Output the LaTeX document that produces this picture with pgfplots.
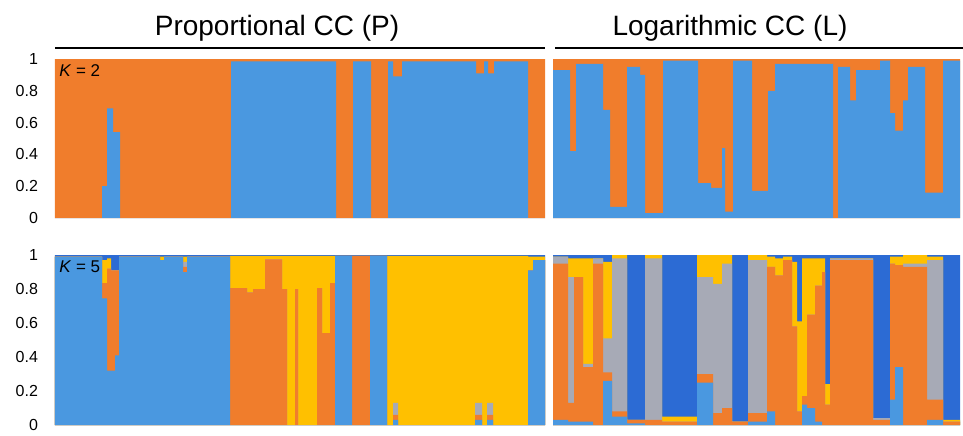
\documentclass[border=0pt]{standalone}
\usepackage{pgfplots}
\pgfplotsset{compat=1.18}
\usepackage{pgfplotstable}
\usepackage{fontspec}
\setmainfont{Liberation Sans}
\definecolor{cLB}{HTML}{4A98E0}
\definecolor{cOR}{HTML}{F07D2C}
\definecolor{cGR}{HTML}{A7AAB6}
\definecolor{cYE}{HTML}{FFC000}
\definecolor{cDB}{HTML}{2C6BD4}

% K = 2, proportional CC: B = blue share, O = orange share
\pgfplotstableread{
x B O
0 0.0 1.0
47 0.20 0.80
52 0.69 0.31
58 0.54 0.46
65 0.0 1.0
176 0.985 0.015
281 0.0 1.0
298 0.985 0.015
316 0.0 1.0
333 0.985 0.015
338 0.89 0.11
347 0.985 0.015
421 0.91 0.09
429 0.985 0.015
433 0.91 0.09
439 0.985 0.015
473 0.0 1.0
490 0.0 1.0
}\topP

% K = 2, logarithmic CC
\pgfplotstableread{
x B O
0 0.93 0.07
17 0.42 0.58
23 0.97 0.03
50 0.68 0.32
57 0.07 0.93
74 0.95 0.05
87 0.90 0.10
92 0.03 0.97
110 0.99 0.01
145 0.22 0.78
158 0.19 0.81
169 0.44 0.56
172 0.04 0.96
180 0.99 0.01
199 0.17 0.83
215 0.80 0.20
222 0.97 0.03
280 0.0 1.0
285 0.95 0.05
297 0.74 0.26
303 0.93 0.07
327 0.99 0.01
337 0.66 0.34
342 0.55 0.45
350 0.74 0.26
355 0.95 0.05
372 0.16 0.84
390 0.99 0.01
407 0.99 0.01
}\topL

% K = 5, proportional CC
\pgfplotstableread{
x LB OR GR YE DB
0 0.99 0 0 0 0.01
47 0.745 0.09 0 0.135 0.03
52 0.32 0.60 0 0.06 0.02
56 0.32 0.59 0 0 0.09
60 0.41 0.50 0 0 0.09
64 0.99 0 0 0 0.01
105 0.97 0 0 0.02 0.01
109 0.99 0 0 0 0.01
128 0.90 0.03 0.03 0.03 0.01
132 0.99 0 0 0 0.01
175 0 0.805 0 0.19 0.005
192 0 0.78 0 0.215 0.005
198 0 0.80 0 0.195 0.005
210 0 0.975 0 0.02 0.005
227 0 0.80 0 0.195 0.005
232 0 0 0 0.995 0.005
240 0 0.80 0 0.195 0.005
243 0 0 0 0.995 0.005
262 0 0.805 0 0.19 0.005
267 0 0.54 0 0.455 0.005
275 0 0.835 0 0.16 0.005
280 0.995 0 0 0 0.005
297 0 0.995 0 0 0.005
315 0.995 0 0 0 0.005
332 0 0 0 0.995 0.005
338 0.03 0.03 0.07 0.865 0.005
343 0 0 0 0.995 0.005
420 0.03 0.03 0.07 0.865 0.005
427 0 0 0 0.995 0.005
432 0.03 0.03 0.07 0.865 0.005
438 0 0 0 0.995 0.005
473 0.91 0 0 0.08 0.01
478 0.97 0 0 0.02 0.01
490 0.97 0 0 0.02 0.01
}\botP

% K = 5, logarithmic CC
\pgfplotstableread{
x LB OR GR YE DB
0 0.03 0.92 0.04 0 0.01
15 0.02 0.11 0.74 0.11 0.02
21 0.02 0.85 0 0.11 0.02
30 0.02 0.32 0.02 0.62 0.02
40 0 0.95 0.03 0 0.02
50 0.26 0.05 0.20 0.45 0.04
59 0.05 0.03 0.90 0.02 0
74 0.01 0.02 0 0 0.97
92 0 0.03 0.95 0.02 0
109 0 0.02 0 0.03 0.95
144 0.25 0.05 0.57 0.13 0
160 0 0.07 0.76 0.17 0
169 0 0.10 0.85 0.05 0
179 0 0.02 0 0 0.98
195 0.02 0.05 0.90 0.03 0
214 0.08 0.85 0 0.06 0.01
222 0 0.88 0 0.10 0.02
230 0 0.97 0 0.02 0.01
239 0 0.58 0 0.38 0.04
244 0 0.08 0 0.53 0.39
249 0.12 0.05 0 0.81 0.02
254 0.10 0.55 0 0.33 0.02
262 0.02 0.80 0 0.16 0.02
269 0 0.90 0 0.08 0.02
272 0 0.12 0 0.12 0.76
277 0 0.97 0.01 0 0.02
320 0 0.03 0.01 0 0.96
337 0.15 0.80 0 0.04 0.01
342 0.34 0.60 0 0.05 0.01
350 0 0.93 0.02 0.05 0
374 0.03 0.12 0.82 0.02 0.01
390 0 0.02 0 0.01 0.97
407 0 0.02 0 0.01 0.97
}\botL

\pgfplotsset{
  panel/.style={scale only axis, xmin=0, ymin=0, ymax=1,
    axis line style={draw=none}, xtick=\empty,
    ytick={0,0.2,0.4,0.6,0.8,1}, major tick length=0pt,
    yticklabel style={font=\fontsize{8}{9}\selectfont, xshift=-5pt},
    /pgf/number format/assume math mode=true},
  withlabels/.style={yticklabels={0,0.2,0.4,0.6,0.8,1}},
  nolabels/.style={yticklabels={}},
  seg/.style={const plot mark left, draw=none, fill=#1},
}

\newcommand{\twoclusters}[1]{%
  \addplot[seg=cOR] table[x=x, y expr=\thisrow{B}+\thisrow{O}] {#1} \closedcycle;
  \addplot[seg=cLB] table[x=x, y=B] {#1} \closedcycle;
}
\newcommand{\fiveclusters}[1]{%
  \addplot[seg=cDB] table[x=x, y expr=\thisrow{LB}+\thisrow{OR}+\thisrow{GR}+\thisrow{YE}+\thisrow{DB}] {#1} \closedcycle;
  \addplot[seg=cYE] table[x=x, y expr=\thisrow{LB}+\thisrow{OR}+\thisrow{GR}+\thisrow{YE}] {#1} \closedcycle;
  \addplot[seg=cGR] table[x=x, y expr=\thisrow{LB}+\thisrow{OR}+\thisrow{GR}] {#1} \closedcycle;
  \addplot[seg=cOR] table[x=x, y expr=\thisrow{LB}+\thisrow{OR}] {#1} \closedcycle;
  \addplot[seg=cLB] table[x=x, y=LB] {#1} \closedcycle;
}

\begin{document}
\begin{tikzpicture}[x=1pt,y=1pt]
\useasboundingbox (0,0) rectangle (481.5,217.5);

\begin{axis}[panel, withlabels, at={(27.5pt,108.5pt)}, anchor=south west,
  width=245pt, height=79.5pt, xmax=490]
\twoclusters{\topP}
\end{axis}

\begin{axis}[panel, nolabels, at={(276.5pt,108.5pt)}, anchor=south west,
  width=203.5pt, height=79.5pt, xmax=407]
\twoclusters{\topL}
\end{axis}

\begin{axis}[panel, withlabels, at={(27.5pt,5pt)}, anchor=south west,
  width=245pt, height=85pt, xmax=490]
\fiveclusters{\botP}
\end{axis}

\begin{axis}[panel, nolabels, at={(276.5pt,5pt)}, anchor=south west,
  width=203.5pt, height=85pt, xmax=407]
\fiveclusters{\botL}
\end{axis}

\draw[line width=1pt] (27.5,193.75) -- (272.5,193.75);
\draw[line width=1pt] (277.5,193.75) -- (481.5,193.75);
\node[anchor=base, inner sep=0pt, font=\fontsize{14}{16}\selectfont] at (138.5,200) {Proportional CC (P)};
\node[anchor=base, inner sep=0pt, font=\fontsize{14}{16}\selectfont] at (365,200) {Logarithmic CC (L)};
\node[anchor=base west, inner sep=0pt, font=\fontsize{8.5}{10}\selectfont] at (29.5,179) {\textit{K} = 2};
\node[anchor=base west, inner sep=0pt, font=\fontsize{8.5}{10}\selectfont] at (29.5,81.5) {\textit{K} = 5};
\end{tikzpicture}
\end{document}
